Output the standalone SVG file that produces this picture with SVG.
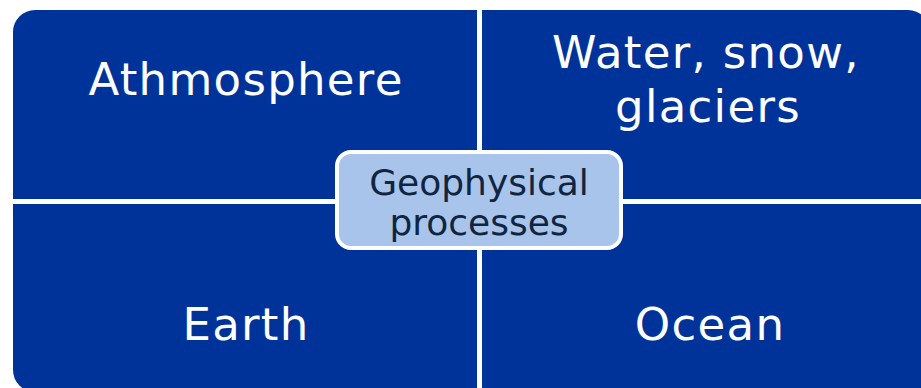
<svg xmlns="http://www.w3.org/2000/svg" width="921" height="388" viewBox="0 0 921 388">
<style>
.quad{fill:#003399}
.lbl{font-family:"DejaVu Sans","Verdana",sans-serif;font-size:45px;fill:#ffffff;text-anchor:middle;letter-spacing:1.3px}
.ctr{font-family:"DejaVu Sans","Verdana",sans-serif;font-size:36px;fill:#10253f;text-anchor:middle}
</style>
<rect width="921" height="388" fill="#ffffff"/>
<g id="atmosphere">
<path class="quad" d="M13,32 A22,22 0 0 1 35,10 L477,10 L477,199 L13,199 Z"/>
<text class="lbl" x="246" y="95">Athmosphere</text>
</g>
<g id="water">
<path class="quad" d="M482,10 L908,10 A22,22 0 0 1 930,32 L930,199 L482,199 Z"/>
<text class="lbl" x="706" y="68">Water, snow,</text>
<text class="lbl" x="708" y="122">glaciers</text>
</g>
<g id="earth">
<path class="quad" d="M13,204 L477,204 L477,392 L35,392 A22,22 0 0 1 13,370 Z"/>
<text class="lbl" x="246" y="340">Earth</text>
</g>
<g id="ocean">
<path class="quad" d="M482,204 L930,204 L930,392 L482,392 Z"/>
<text class="lbl" x="710" y="340">Ocean</text>
</g>
<g id="connectors"/>
<g id="geophysical">
<rect x="337" y="152" width="284" height="96" rx="14" fill="#a9c4eb" stroke="#ffffff" stroke-width="4"/>
<text class="ctr" x="479" y="195">Geophysical</text>
<text class="ctr" x="479" y="235">processes</text>
</g>
</svg>
